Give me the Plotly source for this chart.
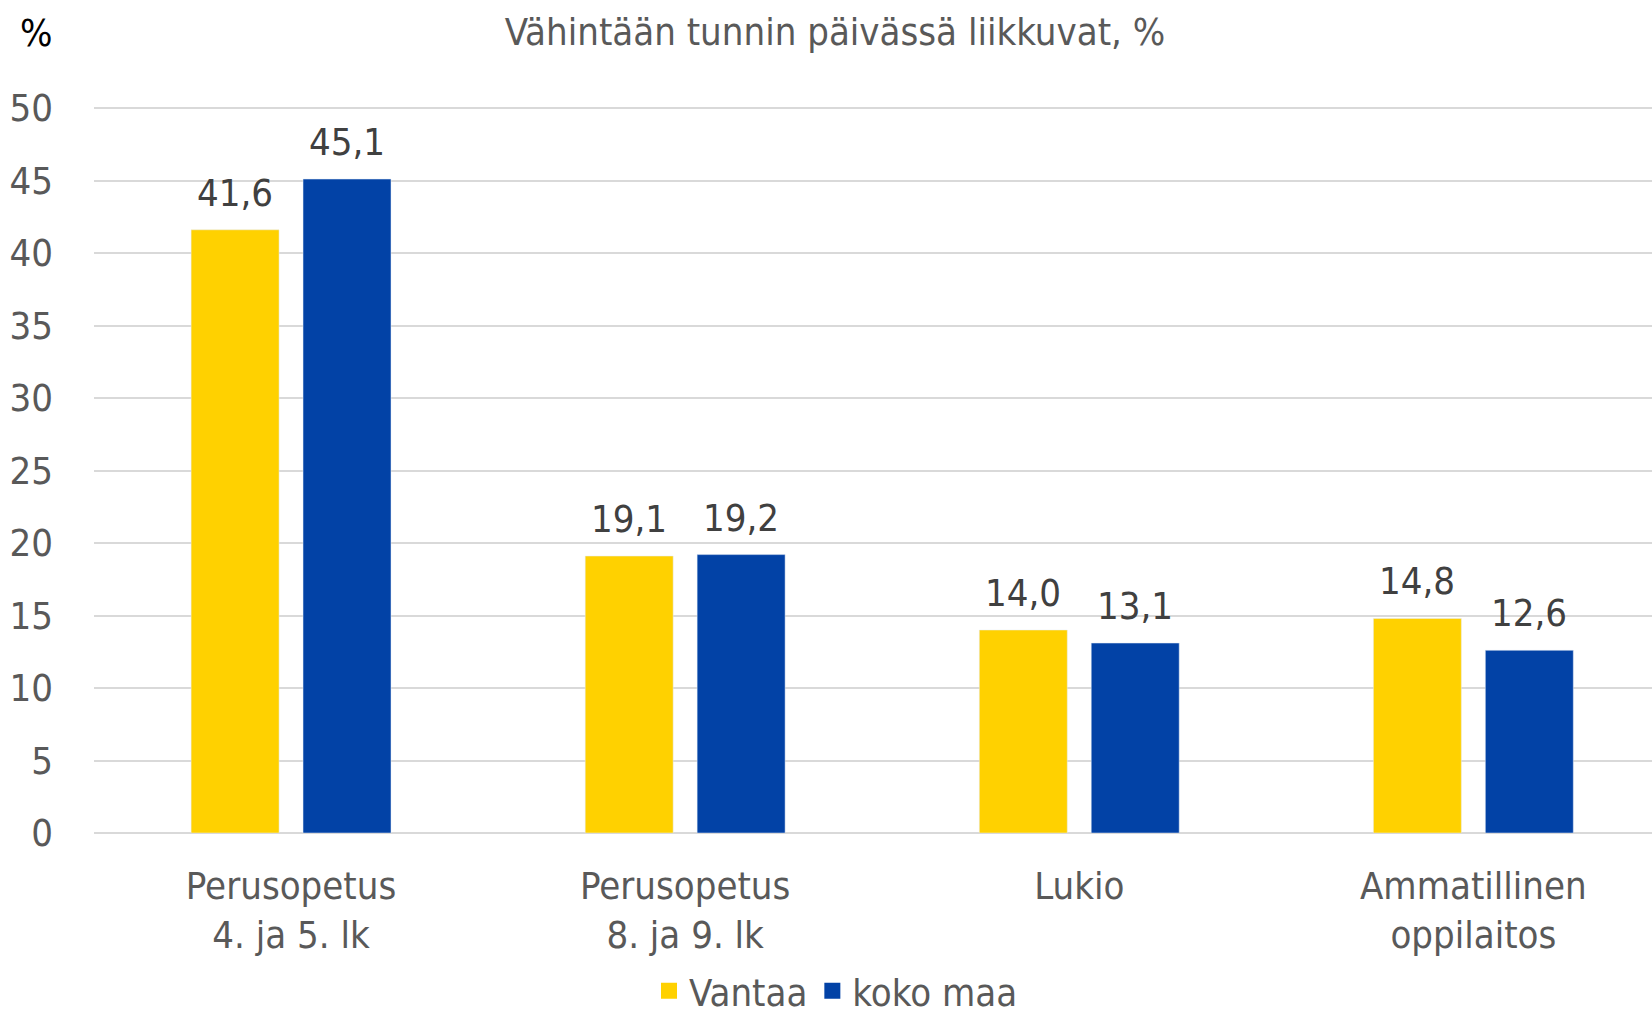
import plotly.graph_objects as go

categories = ["Perusopetus<br>4. ja 5. lk", "Perusopetus<br>8. ja 9. lk", "Lukio", "Ammatillinen<br>oppilaitos"]
vantaa = [41.6, 19.1, 14.0, 14.8]
koko_maa = [45.1, 19.2, 13.1, 12.6]
series_names = ["Vantaa", "koko maa"]
y_ticks = [0, 5, 10, 15, 20, 25, 30, 35, 40, 45, 50]

FONT = "Liberation Sans Narrow, DejaVu Sans Condensed, Arial Narrow, sans-serif"
FS = 38
YELLOW = "#FFD100"
BLUE = "#0242A6"
GRAY = "#595959"
LABEL = "#404040"

W, H = 1652, 1016
ML, MR, MT, MB = 94, 0, 104, 183
PX_PER_UNIT = (H - 108 - MB) / 50.0
Y_TOP = 50 + (108 - MT) / PX_PER_UNIT

fig = go.Figure()
fig.add_bar(x=categories, y=vantaa, name=series_names[0], marker_color=YELLOW, showlegend=False)
fig.add_bar(x=categories, y=koko_maa, name=series_names[1], marker_color=BLUE, showlegend=False)
# legend entries with larger square swatches
for nm, col in zip(series_names, (YELLOW, BLUE)):
    fig.add_scatter(x=[None], y=[None], mode="markers", name=nm,
                    marker=dict(symbol="square", size=22, color=col))

# data labels
cat_w = 394.1
slot = cat_w * (1 - 0.432) / 2
for vals, sh in ((vantaa, -slot / 2), (koko_maa, slot / 2)):
    for c, v in zip(categories, vals):
        fig.add_annotation(x=c, y=v, xshift=sh, yshift=13, yanchor="bottom",
                           text=f"{v:.1f}".replace(".", ","), showarrow=False,
                           font=dict(family=FONT, size=FS, color=LABEL))

fig.add_annotation(xref="paper", yref="paper", x=-ML / (W - ML - MR), y=1 + (MT - 33) / (H - MT - MB),
                   xanchor="left", yanchor="middle", text="%", showarrow=False,
                   font=dict(family=FONT, size=FS, color="#000000"), xshift=18)

fig.update_layout(
    width=W, height=H,
    margin=dict(l=ML, r=MR, t=MT, b=MB, autoexpand=False),
    paper_bgcolor="white", plot_bgcolor="white",
    barmode="group", bargap=0.432, bargroupgap=0.214,
    font=dict(family=FONT, size=FS, color=GRAY),
    title=dict(text="Vähintään tunnin päivässä liikkuvat, %", x=835 / W, xanchor="center",
               y=1 - 31.5 / H, yanchor="middle", xref="container", yref="container",
               font=dict(family=FONT, size=FS, color=GRAY)),
    showlegend=True,
    legend=dict(orientation="h", xref="container", yref="container", x=836 / W, xanchor="center",
                y=(H - 991) / H, yanchor="middle", font=dict(family=FONT, size=FS, color=GRAY),
                itemwidth=30, traceorder="normal"),
    xaxis=dict(range=[-0.5, -0.5 + (W - ML - MR) / cat_w], showgrid=False, showline=False,
               zeroline=False, ticks="", ticklabelstandoff=27, automargin=False,
               tickfont=dict(family=FONT, size=FS, color=GRAY)),
    yaxis=dict(range=[0, Y_TOP], tickvals=y_ticks, showgrid=True, gridcolor="#D9D9D9", gridwidth=1.5,
               zeroline=True, zerolinecolor="#D9D9D9", zerolinewidth=1.5, showline=False,
               ticks="", ticklabelstandoff=40, automargin=False,
               tickfont=dict(family=FONT, size=FS, color=GRAY)),
)

fig.write_html("out.html", config={"displayModeBar": False},
               post_script="document.body.style.margin='0';")
